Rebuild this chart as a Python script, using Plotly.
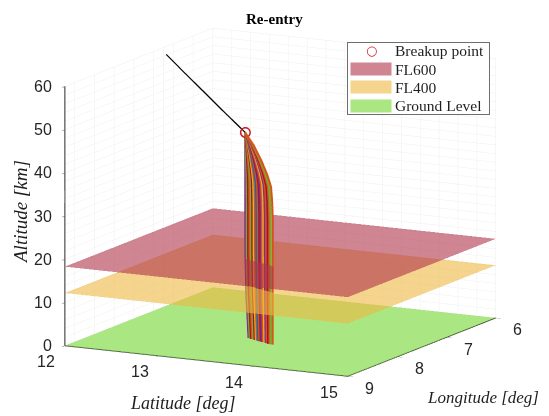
import plotly.graph_objects as go

LAT_RANGE = [12, 15]
LON_RANGE = [9, 6]
ALT_RANGE = [0, 60]
lat_ticks = [12, 13, 14, 15]
lon_ticks = [6, 7, 8, 9]
alt_ticks = [0, 10, 20, 30, 40, 50, 60]
lat_minor = [12.2,12.4,12.6,12.8,13,13.2,13.4,13.6,13.8,14,14.2,14.4,14.6,14.8]
lon_minor = [6.4,6.8,7.2,7.6,8,8.4,8.8]
alt_minor = [2,4,6,8,10,12,14,16,18,20,22,24,26,28,30,32,34,36,38,40,42,44,46,48,50,52,54,56,58]

traj_lat = [12.14, 12.42, 12.70, 12.98, 13.32]
traj_lon = [7.25, 7.40, 7.55, 7.69, 7.87]
traj_alt = [60.3, 57.2, 54.2, 51.0, 47.4]
breakup = (13.32, 7.87, 47.4)

profile_alt = [47.4, 45, 42, 39, 36.4, 33, 29, 20, 10, 5, 0]
profile_reach = [0, .30, .58, .80, .94, .98, 1, 1, 1, 1, 1]
profile_drift = [0, 0, 0, 0, 0, 0, 0, 0, .012, .03, .045]

land_lat = [13.325,13.345,13.365,13.385,13.405,13.425,13.445,13.465,13.485,13.505,13.525,13.545,13.565,13.585,13.605,13.625,13.645,13.665,13.685,13.71]
land_lon = [7.875,7.885,7.895,7.905,7.915,7.925,7.935,7.945,7.955,7.965,7.975,7.985,7.995,8.005,8.015,8.025,8.035,8.04,8.05,8.055]
frag_drift = [1,.95,.9,.85,.8,.75,.7,.6,.55,.5,.45,.4,.35,.3,.25,.2,.15,.1,.05,0]
palette = ["#0072BD","#D95319","#EDB120","#7E2F8E","#77AC30","#4DBEEE","#A2142F"]
frag_color = [3,4,6,1,4,6,2,1,0,1,6,3,1,2,3,1,6,1,4,1]

plane_names = ["Ground Level", "FL400", "FL600"]
plane_alt = [0, 12.19, 18.3]
plane_colors = ["rgb(113,213,47)", "rgb(238,183,67)", "rgb(175,52,73)"]
plane_opacity = [.6, .6, .6]
legend_labels = ["FL600", "FL400", "Ground Level"]
legend_swatches = ["rgb(207,133,146)", "rgb(245,212,142)", "rgb(170,230,130)"]

W, H = 549, 416
def px(x): return (x - 8) / W
def py(y): return 1 - (y - 8) / H

fig = go.Figure()

gx, gy, gz = [], [], []
for v in lat_minor:
    gx += [v, v, None]; gy += [6, 6, None]; gz += [0, 60, None]
for v in lon_minor:
    gx += [12, 12, None]; gy += [v, v, None]; gz += [0, 60, None]
for v in alt_minor:
    gx += [12, 15, None]; gy += [6, 6, None]; gz += [v, v, None]
    gx += [12, 12, None]; gy += [6, 9, None]; gz += [v, v, None]
fig.add_trace(go.Scatter3d(x=gx, y=gy, z=gz, mode="lines", showlegend=False, hoverinfo="skip",
                           line=dict(color="rgb(240,240,240)", width=1)))

for la, lo, dr, c in zip(land_lat, land_lon, frag_drift, frag_color):
    xs = [breakup[0] + (la - breakup[0]) * r + d * dr for r, d in zip(profile_reach, profile_drift)]
    ys = [breakup[1] + (lo - breakup[1]) * r + d * dr * .5 for r, d in zip(profile_reach, profile_drift)]
    fig.add_trace(go.Scatter3d(x=xs, y=ys, z=profile_alt, mode="lines", showlegend=False,
                               line=dict(color=palette[c], width=4)))

fig.add_trace(go.Scatter3d(x=traj_lat, y=traj_lon, z=traj_alt, mode="lines", showlegend=False,
                           line=dict(color="black", width=2.5)))
fig.add_trace(go.Scatter3d(x=[breakup[0]], y=[breakup[1]], z=[breakup[2]], mode="markers",
                           showlegend=False,
                           marker=dict(symbol="circle-open", size=6, color="rgb(205,30,40)",
                                       line=dict(color="rgb(205,30,40)", width=2))))

for name, alt, col, op in zip(plane_names, plane_alt, plane_colors, plane_opacity):
    fig.add_trace(go.Surface(x=[12, 15], y=[6, 9], z=[[alt, alt], [alt, alt]], name=name,
                             showlegend=False, showscale=False, opacity=op,
                             colorscale=[[0, col], [1, col]], cmin=alt - 1, cmax=alt + 1,
                             lighting=dict(ambient=1, diffuse=0, specular=0, fresnel=0)))

def ax(rng, ticks):
    return dict(range=rng, tickmode="array", tickvals=ticks, ticktext=[""] * len(ticks),
                showticklabels=False,
                title=dict(text=""), showbackground=False, gridcolor="rgb(238,238,238)", gridwidth=1,
                showline=True, linecolor="rgb(40,40,40)", linewidth=2,
                ticks="outside", ticklen=6, tickcolor="rgb(90,90,90)",
                zeroline=False, showspikes=False)

tick_font = dict(family="Liberation Sans", size=16, color="rgb(38,38,38)")
scene_ann = []
for t in lat_ticks:
    scene_ann.append(dict(x=t, y=9, z=0, text=str(t), showarrow=False, xshift=-19, yshift=-16, font=tick_font))
for t in lon_ticks:
    scene_ann.append(dict(x=15, y=t, z=0, text=str(t), showarrow=False, xshift=22, yshift=-12, font=tick_font))
for t in alt_ticks:
    scene_ann.append(dict(x=12, y=9, z=t, text=str(t), showarrow=False, xanchor="right", xshift=-11, font=tick_font))

serif = "Liberation Serif"
tcol = "rgb(30,30,30)"
ann = [
    dict(text="<b>Re-entry</b>", x=px(274), y=py(19), font=dict(family=serif, size=15, color="black")),
    dict(text="<i>Latitude [deg]</i>", x=px(183), y=py(403), font=dict(family=serif, size=18, color=tcol)),
    dict(text="<i>Longitude [deg]</i>", x=px(483), y=py(397), font=dict(family=serif, size=17, color=tcol)),
    dict(text="<i>Altitude [km]</i>", x=px(20), y=py(212), textangle=-90, font=dict(family=serif, size=19, color=tcol)),
    dict(text=" ", x=px(418), y=py(78), width=141, height=71, bgcolor="white",
         bordercolor="rgb(110,110,110)", borderwidth=1, borderpad=0),
    dict(text="<b>○</b>", x=px(371), y=py(51), font=dict(family="DejaVu Sans", size=13, color="rgb(205,30,40)")),
    dict(text="Breakup point", x=px(393), y=py(51), xanchor="left", font=dict(family=serif, size=15.5, color=tcol)),
]
for i, (lab, sw) in enumerate(zip(legend_labels, legend_swatches)):
    yc = 69.5 + 18 * i
    ann.append(dict(text=" ", x=px(371), y=py(yc), width=40, height=12, bgcolor=sw, borderpad=0))
    ann.append(dict(text=lab, x=px(393), y=py(yc), xanchor="left", font=dict(family=serif, size=15.5, color=tcol)))
for a in ann:
    a.setdefault("xanchor", "center")
    a.setdefault("yanchor", "middle")
    a.update(xref="paper", yref="paper", showarrow=False)

fig.update_layout(
    width=W, height=H, paper_bgcolor="white", margin=dict(l=0, r=0, t=0, b=0, autoexpand=False), showlegend=False,
    scene=dict(domain=dict(x=[0, 1], y=[0, 1]),
               xaxis=ax(LAT_RANGE, lat_ticks),
               yaxis=ax(LON_RANGE, lon_ticks),
               zaxis=ax(ALT_RANGE, alt_ticks),
               annotations=scene_ann,
               aspectmode="manual", aspectratio=dict(x=1.535, y=1.535, z=1.274),
               camera=dict(projection=dict(type="orthographic"), eye=dict(x=.909, y=-1.715, z=.341),
                           up=dict(x=0, y=0, z=1), center=dict(x=.0093, y=.0049, z=-.068))),
    annotations=ann)
fig.write_html("out.html")
